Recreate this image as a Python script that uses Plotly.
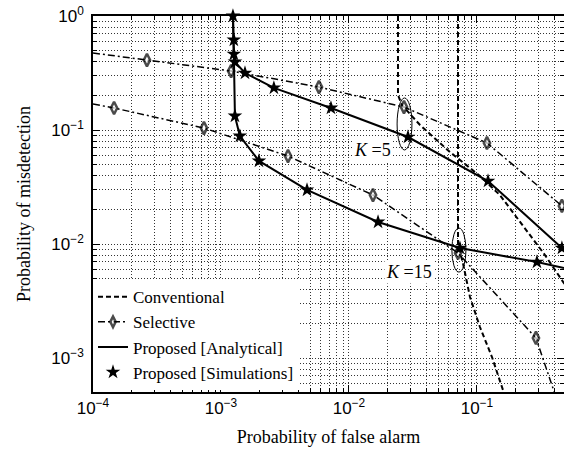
import plotly.graph_objects as go

# ---------------- data ----------------
# Proposed [Analytical]
pf_prop_k5 = [1.24e-3, 1.26e-3, 1.26e-3, 1.285e-3, 1.54e-3, 2.59e-3, 7.23e-3, 0.0289, 0.122, 0.461]
pm_prop_k5 = [1.0, 0.616, 0.464, 0.395, 0.316, 0.234, 0.156, 0.0868, 0.0357, 0.00922]
pf_prop_k15 = [1.24e-3, 1.26e-3, 1.26e-3, 1.285e-3, 1.405e-3, 1.98e-3, 4.70e-3, 0.01687, 0.0736, 0.294, 0.479]
pm_prop_k15 = [1.0, 0.616, 0.464, 0.1327, 0.0886, 0.0535, 0.0298, 0.0156, 0.00922, 0.00695, 0.00616]

# Proposed [Simulations]
pf_sim_k5 = [1.24e-3, 1.26e-3, 1.26e-3, 1.285e-3, 1.54e-3, 2.59e-3, 7.23e-3, 0.0289, 0.122, 0.461]
pm_sim_k5 = [1.0, 0.616, 0.464, 0.395, 0.316, 0.234, 0.156, 0.0868, 0.0357, 0.00922]
pf_sim_k15 = [1.285e-3, 1.405e-3, 1.98e-3, 4.70e-3, 0.01687, 0.0736, 0.294]
pm_sim_k15 = [0.1327, 0.0886, 0.0535, 0.0298, 0.0156, 0.00922, 0.00695]

# Selective
pf_sel_k5 = [1e-4, 2.64e-4, 1.20e-3, 5.83e-3, 0.0269, 0.1197, 0.461]
pm_sel_k5 = [0.4735, 0.411, 0.329, 0.238, 0.159, 0.0769, 0.0216]
pf_sel_k15 = [1e-4, 1.46e-4, 7.36e-4, 3.34e-3, 0.0154, 0.0711, 0.289, 0.4217]
pm_sel_k15 = [0.169, 0.156, 0.104, 0.0591, 0.0269, 0.00834, 0.0015, 4.28e-4]

# Conventional
pf_conv_k5 = [0.02415, 0.02415, 0.0259, 0.0359, 0.0615, 0.1055, 0.151, 0.217, 0.340, 0.4955]
pm_conv_k5 = [1.0, 0.203, 0.1657, 0.1106, 0.0641, 0.0395, 0.0269, 0.0156, 0.0080, 0.00428]
pf_conv_k15 = [0.0711, 0.0711, 0.0777, 0.0882, 0.1055, 0.131, 0.1655]
pm_conv_k15 = [1.0, 0.0098, 0.00681, 0.00343, 0.00187, 0.00102, 4.64e-4]

x_tick_vals = [1e-4, 1e-3, 1e-2, 1e-1]
x_tick_text = ["10<sup>\u22124</sup>", "10<sup>\u22123</sup>", "10<sup>\u22122</sup>", "10<sup>\u22121</sup>"]
y_tick_vals = [1e-3, 1e-2, 1e-1, 1]
y_tick_text = ["10<sup>\u22123</sup>", "10<sup>\u22122</sup>", "10<sup>\u22121</sup>", "10<sup>0</sup>"]

# ---------------- styles ----------------
SERIF = "Liberation Serif"
SANS = "Liberation Sans"
BLK = "black"
conv_dash = "5px,3px"
sel_dash = "7px,3px,2px,3px"


def sel_sizes(n, skip_first=True, skip_last=False):
    s = [9] * n
    if skip_first:
        s[0] = 0
    if skip_last:
        s[-1] = 0
    return s


fig = go.Figure()

fig.add_trace(go.Scatter(x=pf_conv_k5, y=pm_conv_k5, mode="lines", name="Conventional",
                         line=dict(color=BLK, width=2, dash=conv_dash)))
fig.add_trace(go.Scatter(x=pf_conv_k15, y=pm_conv_k15, mode="lines", showlegend=False,
                         line=dict(color=BLK, width=2, dash=conv_dash)))

fig.add_trace(go.Scatter(x=pf_sel_k5, y=pm_sel_k5, mode="lines+markers", name="Selective",
                         line=dict(color=BLK, width=1.5, dash=sel_dash),
                         marker=dict(symbol="diamond-tall", size=sel_sizes(len(pf_sel_k5)),
                                     color="white", line=dict(color=BLK, width=2.5))))
fig.add_trace(go.Scatter(x=pf_sel_k15, y=pm_sel_k15, mode="lines+markers", showlegend=False,
                         line=dict(color=BLK, width=1.5, dash=sel_dash),
                         marker=dict(symbol="diamond-tall", size=sel_sizes(len(pf_sel_k15), True, True),
                                     color="white", line=dict(color=BLK, width=2.5))))

fig.add_trace(go.Scatter(x=pf_prop_k5, y=pm_prop_k5, mode="lines", name="Proposed [Analytical]",
                         line=dict(color=BLK, width=2)))
fig.add_trace(go.Scatter(x=pf_prop_k15, y=pm_prop_k15, mode="lines", showlegend=False,
                         line=dict(color=BLK, width=2)))

fig.add_trace(go.Scatter(x=pf_sim_k5, y=pm_sim_k5, mode="markers", name="Proposed [Simulations]",
                         cliponaxis=False,
                         marker=dict(symbol="star", size=11, color=BLK)))
fig.add_trace(go.Scatter(x=pf_sim_k15, y=pm_sim_k15, mode="markers", showlegend=False,
                         cliponaxis=False,
                         marker=dict(symbol="star", size=11, color=BLK)))

# ellipses marking groups (data coordinates)
fig.add_shape(type="circle", xref="x", yref="y",
              x0=10 ** (-1.566 - 0.058), x1=10 ** (-1.566 + 0.058),
              y0=10 ** (-0.947 - 0.228), y1=10 ** (-0.947 + 0.228),
              line=dict(color=BLK, width=1))
fig.add_shape(type="circle", xref="x", yref="y",
              x0=10 ** (-1.141 - 0.055), x1=10 ** (-1.141 + 0.055),
              y0=10 ** (-2.053 - 0.193), y1=10 ** (-2.053 + 0.193),
              line=dict(color=BLK, width=1))

# K labels (annotation positions are log10 values on log axes)
fig.add_annotation(x=-1.8125, y=-1.175, xref="x", yref="y", showarrow=False,
                   text="<i>K</i> =5", font=dict(family=SERIF, size=18, color=BLK),
                   bgcolor="white")
fig.add_annotation(x=-1.531, y=-2.246, xref="x", yref="y", showarrow=False,
                   text="<i>K</i> =15", font=dict(family=SERIF, size=18, color=BLK),
                   bgcolor="white")

grid_common = dict(gridcolor="#333", gridwidth=1, griddash="1px,2px")

fig.update_xaxes(type="log", range=[-4, -0.32], tickmode="array", automargin=False,
                 tickvals=x_tick_vals, ticktext=x_tick_text,
                 ticks="inside", ticklen=7, tickwidth=1, tickcolor=BLK,
                 showline=True, linecolor=BLK, linewidth=1.5, mirror="ticks",
                 showgrid=True, **grid_common,
                 minor=dict(dtick="D1", ticks="inside", ticklen=4, tickcolor=BLK,
                            showgrid=True, **grid_common),
                 tickfont=dict(family=SANS, size=17, color=BLK),
                 ticklabeloverflow="allow",
                 title=dict(text="Probability of false alarm", standoff=13,
                            font=dict(family=SERIF, size=18, color=BLK)),
                 zeroline=False)
fig.update_yaxes(type="log", range=[-3.298, 0], tickmode="array", automargin=False,
                 tickvals=y_tick_vals, ticktext=y_tick_text,
                 ticks="inside", ticklen=7, tickwidth=1, tickcolor=BLK,
                 showline=True, linecolor=BLK, linewidth=1.5, mirror="ticks",
                 showgrid=True, **grid_common,
                 minor=dict(dtick="D1", ticks="inside", ticklen=4, tickcolor=BLK,
                            showgrid=True, **grid_common),
                 tickfont=dict(family=SANS, size=17, color=BLK),
                 ticklabelstandoff=4, ticklabeloverflow="allow",
                 title=dict(text="Probability of misdetection", standoff=16,
                            font=dict(family=SERIF, size=18, color=BLK)),
                 zeroline=False)

fig.update_layout(
    width=564, height=460,
    margin=dict(l=93, r=0, t=16, b=68, autoexpand=False),
    paper_bgcolor="white", plot_bgcolor="white",
    font=dict(family=SERIF, color=BLK),
    legend=dict(x=0.0, y=0.30, xanchor="left", yanchor="top",
                bgcolor="white", borderwidth=0,
                font=dict(family=SERIF, size=17, color=BLK),
                tracegroupgap=0, itemwidth=30),
    showlegend=True,
)

# remove the default 8px page margin so the figure fills the window exactly
fig.write_html("out.html", config={"displayModeBar": False},
               post_script="document.body.style.margin='0px';")
